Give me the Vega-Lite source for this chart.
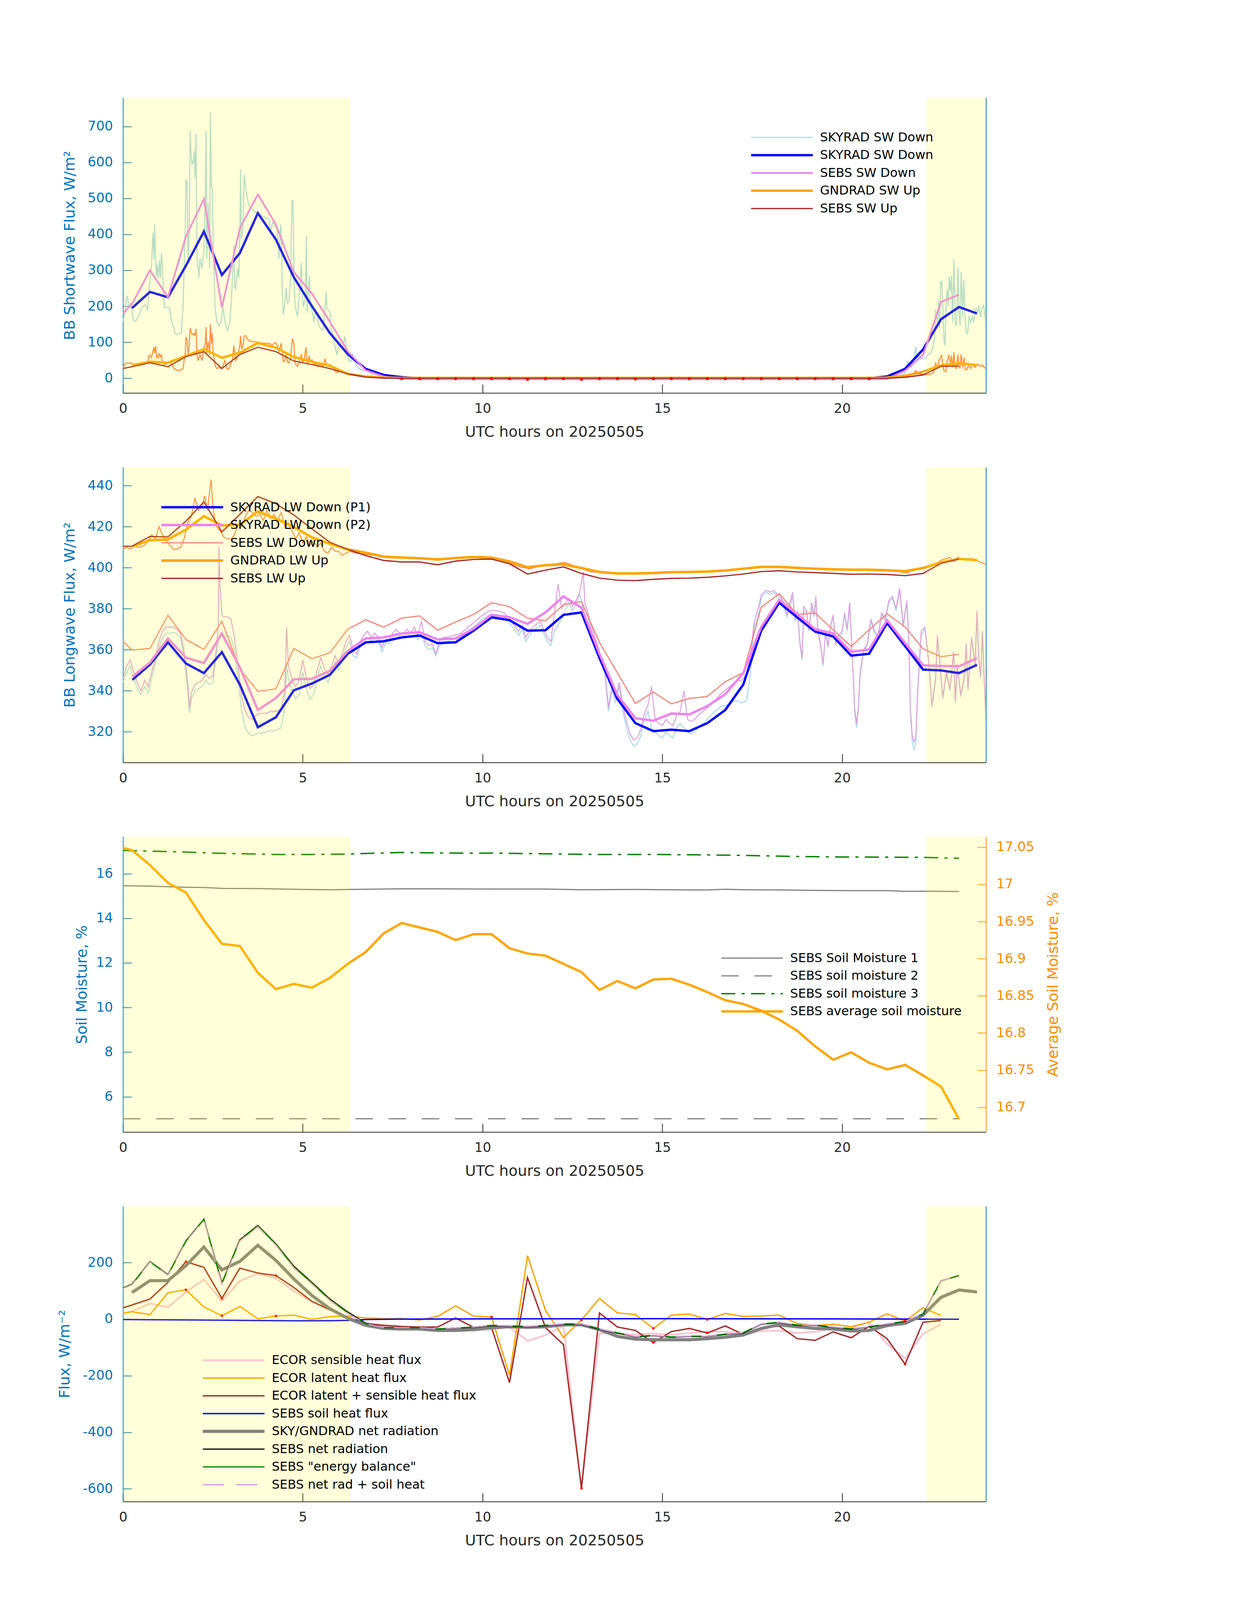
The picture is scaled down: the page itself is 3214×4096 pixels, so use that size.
{
"$schema": "https://vega.github.io/schema/vega-lite/v6.json",
"background": "white",
"padding": {"left": 147, "top": 250, "right": 5, "bottom": 5},
"config": {
  "font": "DejaVu Sans",
  "view": {"stroke": null},
  "axis": {"grid": false, "labelFont": "DejaVu Sans", "titleFont": "DejaVu Sans", "labelFontSize": 34, "titleFontSize": 38, "titleFontWeight": "normal", "tickSize": -22, "tickWidth": 2, "domainWidth": 2},
  "axisX": {"labelPadding": 45, "titlePadding": 24, "domainColor": "#262626", "tickColor": "#262626", "labelColor": "#262626", "titleColor": "#262626", "labelFlush": false},
  "axisLeft": {"labelPadding": 48, "titlePadding": 26, "domainColor": "#0072BD", "tickColor": "#0072BD", "labelColor": "#0072BD", "titleColor": "#0072BD"},
  "axisRight": {"labelPadding": 48, "titlePadding": 30},
  "legend": {"symbolType": "M-7.9,0H7.9", "symbolSize": 400, "labelFontSize": 32, "labelFont": "DejaVu Sans", "labelColor": "#000000", "rowPadding": 13.5, "padding": 0, "labelLimit": 3000, "symbolStrokeWidth": 2}
},
"datasets": {
  "day": [{"x0": 0, "x1": 6.32}, {"x0": 22.34, "x1": 24}],
  "p1raw": [{"h":0,"v":158},{"h":0.044,"v":177},{"h":0.099,"v":225},{"h":0.127,"v":228},{"h":0.155,"v":198},{"h":0.21,"v":209},{"h":0.29,"v":161},{"h":0.35,"v":158},{"h":0.43,"v":172},{"h":0.49,"v":188},{"h":0.54,"v":198},{"h":0.62,"v":204},{"h":0.68,"v":188},{"h":0.73,"v":252},{"h":0.79,"v":305},{"h":0.83,"v":404},{"h":0.86,"v":332},{"h":0.88,"v":428},{"h":0.91,"v":321},{"h":0.93,"v":284},{"h":0.95,"v":316},{"h":0.98,"v":279},{"h":1.01,"v":327},{"h":1.04,"v":279},{"h":1.07,"v":348},{"h":1.09,"v":321},{"h":1.12,"v":252},{"h":1.15,"v":198},{"h":1.2,"v":196},{"h":1.26,"v":198},{"h":1.3,"v":193},{"h":1.34,"v":161},{"h":1.4,"v":145},{"h":1.45,"v":124},{"h":1.51,"v":121},{"h":1.56,"v":124},{"h":1.62,"v":126},{"h":1.67,"v":198},{"h":1.73,"v":412},{"h":1.75,"v":551},{"h":1.78,"v":546},{"h":1.81,"v":316},{"h":1.84,"v":412},{"h":1.87,"v":688},{"h":1.89,"v":626},{"h":1.92,"v":594},{"h":1.95,"v":599},{"h":1.98,"v":631},{"h":2.0,"v":557},{"h":2.03,"v":680},{"h":2.06,"v":332},{"h":2.09,"v":305},{"h":2.11,"v":279},{"h":2.14,"v":332},{"h":2.2,"v":305},{"h":2.25,"v":359},{"h":2.29,"v":495},{"h":2.31,"v":688},{"h":2.33,"v":332},{"h":2.37,"v":487},{"h":2.41,"v":305},{"h":2.43,"v":741},{"h":2.46,"v":530},{"h":2.48,"v":530},{"h":2.51,"v":370},{"h":2.56,"v":198},{"h":2.61,"v":156},{"h":2.67,"v":145},{"h":2.72,"v":156},{"h":2.78,"v":198},{"h":2.81,"v":172},{"h":2.86,"v":145},{"h":2.91,"v":132},{"h":2.97,"v":156},{"h":3.02,"v":225},{"h":3.08,"v":370},{"h":3.11,"v":252},{"h":3.13,"v":246},{"h":3.19,"v":305},{"h":3.22,"v":279},{"h":3.25,"v":412},{"h":3.27,"v":581},{"h":3.29,"v":386},{"h":3.33,"v":412},{"h":3.37,"v":565},{"h":3.41,"v":530},{"h":3.47,"v":493},{"h":3.52,"v":476},{"h":3.6,"v":471},{"h":3.69,"v":460},{"h":3.77,"v":458},{"h":3.85,"v":452},{"h":3.96,"v":447},{"h":4.07,"v":442},{"h":4.1,"v":402},{"h":4.16,"v":434},{"h":4.24,"v":423},{"h":4.29,"v":412},{"h":4.34,"v":332},{"h":4.38,"v":428},{"h":4.4,"v":412},{"h":4.43,"v":252},{"h":4.46,"v":177},{"h":4.5,"v":209},{"h":4.54,"v":252},{"h":4.57,"v":209},{"h":4.61,"v":212},{"h":4.66,"v":273},{"h":4.7,"v":494},{"h":4.73,"v":493},{"h":4.76,"v":252},{"h":4.79,"v":198},{"h":4.85,"v":172},{"h":4.9,"v":225},{"h":4.96,"v":321},{"h":4.99,"v":225},{"h":5.02,"v":198},{"h":5.07,"v":225},{"h":5.1,"v":396},{"h":5.12,"v":182},{"h":5.18,"v":284},{"h":5.21,"v":198},{"h":5.26,"v":188},{"h":5.31,"v":156},{"h":5.35,"v":188},{"h":5.4,"v":172},{"h":5.45,"v":145},{"h":5.51,"v":137},{"h":5.56,"v":134},{"h":5.62,"v":198},{"h":5.65,"v":241},{"h":5.67,"v":193},{"h":5.73,"v":188},{"h":5.76,"v":182},{"h":5.78,"v":145},{"h":5.84,"v":113},{"h":5.89,"v":91},{"h":5.95,"v":65},{"h":6.0,"v":91},{"h":6.06,"v":86},{"h":6.11,"v":81},{"h":6.17,"v":116},{"h":6.23,"v":70},{"h":6.28,"v":49},{"h":6.34,"v":46},{"h":6.39,"v":65},{"h":6.45,"v":46},{"h":6.5,"v":35},{"h":6.56,"v":27},{"h":6.61,"v":25},{"h":6.67,"v":22},{"h":6.75,"v":23},{"h":6.83,"v":17},{"h":7.05,"v":9},{"h":7.33,"v":3},{"h":7.72,"v":1},{"h":8,"v":0},{"h":21.5,"v":0},{"h":21.66,"v":5.6},{"h":21.75,"v":15},{"h":21.84,"v":48},{"h":21.87,"v":33},{"h":21.93,"v":30},{"h":21.99,"v":48},{"h":22.05,"v":87},{"h":22.08,"v":48},{"h":22.14,"v":63},{"h":22.2,"v":54},{"h":22.26,"v":54},{"h":22.33,"v":57},{"h":22.39,"v":66},{"h":22.45,"v":68},{"h":22.51,"v":78},{"h":22.57,"v":109},{"h":22.6,"v":191},{"h":22.65,"v":155},{"h":22.68,"v":216},{"h":22.71,"v":139},{"h":22.74,"v":267},{"h":22.77,"v":270},{"h":22.8,"v":200},{"h":22.83,"v":109},{"h":22.86,"v":91},{"h":22.89,"v":200},{"h":22.92,"v":248},{"h":22.95,"v":200},{"h":22.98,"v":282},{"h":23.01,"v":242},{"h":23.04,"v":285},{"h":23.07,"v":155},{"h":23.11,"v":331},{"h":23.14,"v":155},{"h":23.18,"v":146},{"h":23.22,"v":307},{"h":23.25,"v":176},{"h":23.28,"v":146},{"h":23.31,"v":296},{"h":23.35,"v":170},{"h":23.38,"v":275},{"h":23.42,"v":170},{"h":23.45,"v":126},{"h":23.49,"v":124},{"h":23.53,"v":173},{"h":23.57,"v":155},{"h":23.62,"v":170},{"h":23.66,"v":155},{"h":23.7,"v":191},{"h":23.73,"v":194},{"h":23.77,"v":182},{"h":23.8,"v":203},{"h":23.85,"v":170},{"h":23.89,"v":194},{"h":23.94,"v":203},{"h":24,"v":146}],
  "p1coral": [{"h":0,"v":27},{"h":0.044,"v":39},{"h":0.099,"v":43},{"h":0.155,"v":41},{"h":0.21,"v":43},{"h":0.29,"v":38},{"h":0.375,"v":41},{"h":0.49,"v":38},{"h":0.6,"v":41},{"h":0.68,"v":43},{"h":0.73,"v":65},{"h":0.79,"v":57},{"h":0.83,"v":75},{"h":0.86,"v":86},{"h":0.88,"v":70},{"h":0.91,"v":89},{"h":0.93,"v":59},{"h":0.95,"v":62},{"h":0.98,"v":57},{"h":1.01,"v":70},{"h":1.04,"v":59},{"h":1.07,"v":65},{"h":1.09,"v":46},{"h":1.15,"v":38},{"h":1.23,"v":41},{"h":1.31,"v":46},{"h":1.37,"v":38},{"h":1.42,"v":27},{"h":1.51,"v":22},{"h":1.59,"v":22},{"h":1.67,"v":27},{"h":1.73,"v":70},{"h":1.75,"v":113},{"h":1.78,"v":110},{"h":1.81,"v":65},{"h":1.84,"v":91},{"h":1.87,"v":140},{"h":1.89,"v":129},{"h":1.93,"v":121},{"h":1.98,"v":124},{"h":2.0,"v":118},{"h":2.03,"v":137},{"h":2.06,"v":65},{"h":2.09,"v":49},{"h":2.14,"v":65},{"h":2.2,"v":49},{"h":2.25,"v":86},{"h":2.29,"v":97},{"h":2.31,"v":142},{"h":2.33,"v":70},{"h":2.37,"v":102},{"h":2.41,"v":65},{"h":2.43,"v":150},{"h":2.46,"v":97},{"h":2.48,"v":124},{"h":2.51,"v":70},{"h":2.56,"v":35},{"h":2.61,"v":27},{"h":2.67,"v":30},{"h":2.72,"v":27},{"h":2.78,"v":33},{"h":2.83,"v":49},{"h":2.89,"v":27},{"h":2.94,"v":25},{"h":3.0,"v":38},{"h":3.05,"v":54},{"h":3.08,"v":91},{"h":3.13,"v":49},{"h":3.19,"v":59},{"h":3.25,"v":91},{"h":3.27,"v":118},{"h":3.3,"v":81},{"h":3.34,"v":91},{"h":3.37,"v":118},{"h":3.41,"v":118},{"h":3.47,"v":107},{"h":3.58,"v":102},{"h":3.69,"v":101},{"h":3.8,"v":99},{"h":3.91,"v":97},{"h":4.07,"v":97},{"h":4.13,"v":91},{"h":4.24,"v":99},{"h":4.29,"v":91},{"h":4.34,"v":75},{"h":4.38,"v":91},{"h":4.4,"v":97},{"h":4.43,"v":70},{"h":4.46,"v":46},{"h":4.5,"v":49},{"h":4.54,"v":70},{"h":4.57,"v":46},{"h":4.61,"v":43},{"h":4.66,"v":54},{"h":4.71,"v":110},{"h":4.75,"v":97},{"h":4.79,"v":41},{"h":4.85,"v":33},{"h":4.9,"v":43},{"h":4.96,"v":67},{"h":4.99,"v":43},{"h":5.04,"v":54},{"h":5.09,"v":86},{"h":5.13,"v":38},{"h":5.18,"v":62},{"h":5.21,"v":46},{"h":5.26,"v":51},{"h":5.31,"v":38},{"h":5.37,"v":41},{"h":5.42,"v":33},{"h":5.48,"v":38},{"h":5.56,"v":33},{"h":5.62,"v":54},{"h":5.65,"v":41},{"h":5.7,"v":33},{"h":5.76,"v":38},{"h":5.81,"v":33},{"h":5.87,"v":27},{"h":5.92,"v":17},{"h":5.98,"v":17},{"h":6.03,"v":22},{"h":6.11,"v":19},{"h":6.2,"v":14},{"h":6.28,"v":11},{"h":6.39,"v":9},{"h":6.56,"v":6},{"h":6.83,"v":5},{"h":7.16,"v":2},{"h":7.6,"v":1},{"h":8,"v":0.5},{"h":21,"v":0.5},{"h":21.69,"v":5.6},{"h":21.81,"v":5.6},{"h":21.99,"v":12},{"h":22.05,"v":21},{"h":22.08,"v":12},{"h":22.17,"v":12},{"h":22.29,"v":10},{"h":22.39,"v":10},{"h":22.48,"v":12},{"h":22.54,"v":15},{"h":22.6,"v":42},{"h":22.65,"v":30},{"h":22.69,"v":48},{"h":22.74,"v":60},{"h":22.77,"v":63},{"h":22.8,"v":36},{"h":22.83,"v":21},{"h":22.88,"v":18},{"h":22.92,"v":48},{"h":22.97,"v":63},{"h":23.01,"v":42},{"h":23.04,"v":63},{"h":23.07,"v":30},{"h":23.11,"v":72},{"h":23.14,"v":30},{"h":23.18,"v":27},{"h":23.22,"v":66},{"h":23.25,"v":30},{"h":23.28,"v":29},{"h":23.31,"v":66},{"h":23.35,"v":30},{"h":23.39,"v":57},{"h":23.42,"v":24},{"h":23.47,"v":24},{"h":23.51,"v":36},{"h":23.57,"v":27},{"h":23.63,"v":39},{"h":23.69,"v":30},{"h":23.78,"v":39},{"h":23.84,"v":33},{"h":23.9,"v":36},{"h":23.97,"v":29},{"h":24,"v":27}],
  "p1b": [{"h":0.25,"v":195},{"h":0.75,"v":240},{"h":1.25,"v":225},{"h":1.75,"v":313},{"h":2.25,"v":408},{"h":2.75,"v":287},{"h":3.25,"v":348},{"h":3.75,"v":459},{"h":4.25,"v":386},{"h":4.75,"v":281},{"h":5.25,"v":201},{"h":5.75,"v":126},{"h":6.25,"v":67},{"h":6.75,"v":26},{"h":7.25,"v":9},{"h":7.75,"v":3},{"h":8.25,"v":0},{"h":20.75,"v":0},{"h":21.25,"v":5},{"h":21.75,"v":26},{"h":22.25,"v":80},{"h":22.75,"v":164},{"h":23.25,"v":198},{"h":23.75,"v":180}],
  "p1c": [{"h":0,"v":180},{"h":0.25,"v":206},{"h":0.75,"v":300},{"h":1.25,"v":225},{"h":1.75,"v":394},{"h":2.25,"v":498},{"h":2.75,"v":197},{"h":3.25,"v":417},{"h":3.75,"v":511},{"h":4.25,"v":428},{"h":4.75,"v":295},{"h":5.25,"v":236},{"h":5.75,"v":158},{"h":6.25,"v":75},{"h":6.75,"v":22},{"h":7.25,"v":5},{"h":7.75,"v":-2},{"h":8.25,"v":-3},{"h":20.75,"v":-3},{"h":21.25,"v":-2},{"h":21.75,"v":21},{"h":22.25,"v":65},{"h":22.75,"v":212},{"h":23.25,"v":232}],
  "p1d": [{"h":0.25,"v":36},{"h":0.75,"v":46},{"h":1.25,"v":43},{"h":1.75,"v":62},{"h":2.25,"v":81},{"h":2.75,"v":57},{"h":3.25,"v":71},{"h":3.75,"v":98},{"h":4.25,"v":85},{"h":4.75,"v":59},{"h":5.25,"v":46},{"h":5.75,"v":35},{"h":6.25,"v":12},{"h":6.75,"v":5},{"h":7.25,"v":2},{"h":7.75,"v":1},{"h":20.75,"v":1},{"h":21.25,"v":2},{"h":21.75,"v":7},{"h":22.25,"v":18},{"h":22.75,"v":36},{"h":23.25,"v":42},{"h":23.75,"v":36}],
  "p1e": [{"h":0,"v":27},{"h":0.25,"v":32},{"h":0.75,"v":43},{"h":1.25,"v":32},{"h":1.75,"v":60},{"h":2.25,"v":74},{"h":2.75,"v":27},{"h":3.25,"v":66},{"h":3.75,"v":86},{"h":4.25,"v":74},{"h":4.75,"v":48},{"h":5.25,"v":38},{"h":5.75,"v":27},{"h":6.25,"v":12},{"h":6.75,"v":3},{"h":7.25,"v":0.5},{"h":7.75,"v":0},{"h":20.75,"v":0},{"h":21.25,"v":0},{"h":21.75,"v":2.6},{"h":22.25,"v":9},{"h":22.75,"v":33},{"h":23.25,"v":34}],
  "p1red": [{"h":7.75,"v":-1},{"h":8.25,"v":-1},{"h":8.75,"v":-1},{"h":9.25,"v":-1},{"h":9.75,"v":-1},{"h":10.25,"v":-1},{"h":10.75,"v":-1},{"h":11.25,"v":-3},{"h":11.75,"v":-1},{"h":12.25,"v":-1},{"h":12.75,"v":-3},{"h":13.25,"v":-1},{"h":13.75,"v":-1},{"h":14.25,"v":-2},{"h":14.75,"v":-1},{"h":15.25,"v":-1},{"h":15.75,"v":-1},{"h":16.25,"v":-1},{"h":16.75,"v":-1},{"h":17.25,"v":-1},{"h":17.75,"v":-1},{"h":18.25,"v":-1},{"h":18.75,"v":-1},{"h":19.25,"v":-1},{"h":19.75,"v":-1},{"h":20.25,"v":-1},{"h":20.75,"v":-1}],
  "p2raw1": [{"h":0,"v":344},{"h":0.1,"v":349},{"h":0.2,"v":352},{"h":0.3,"v":346},{"h":0.4,"v":341},{"h":0.5,"v":338},{"h":0.6,"v":342},{"h":0.7,"v":339},{"h":0.8,"v":346},{"h":0.9,"v":353},{"h":1.0,"v":361},{"h":1.1,"v":366},{"h":1.2,"v":368},{"h":1.3,"v":368},{"h":1.4,"v":368.5},{"h":1.5,"v":368},{"h":1.6,"v":366},{"h":1.7,"v":356},{"h":1.8,"v":340},{"h":1.85,"v":329},{"h":1.9,"v":336},{"h":2.0,"v":340},{"h":2.1,"v":341},{"h":2.2,"v":342},{"h":2.3,"v":345},{"h":2.4,"v":343},{"h":2.5,"v":344},{"h":2.6,"v":358},{"h":2.7,"v":368},{"h":2.8,"v":366},{"h":2.9,"v":367},{"h":3.0,"v":366},{"h":3.1,"v":360},{"h":3.2,"v":346},{"h":3.3,"v":330},{"h":3.4,"v":322},{"h":3.5,"v":319},{"h":3.6,"v":318},{"h":3.7,"v":319},{"h":3.8,"v":319.5},{"h":3.9,"v":319.5},{"h":4.0,"v":320},{"h":4.1,"v":320.5},{"h":4.2,"v":320.5},{"h":4.3,"v":321},{"h":4.4,"v":322},{"h":4.5,"v":332},{"h":4.55,"v":352},{"h":4.6,"v":346},{"h":4.7,"v":340},{"h":4.8,"v":336},{"h":4.9,"v":338},{"h":5.0,"v":349},{"h":5.1,"v":341},{"h":5.2,"v":336},{"h":5.3,"v":338},{"h":5.4,"v":346},{"h":5.5,"v":352},{"h":5.6,"v":347},{"h":5.7,"v":344},{"h":5.8,"v":349},{"h":5.9,"v":354},{"h":6.0,"v":350},{"h":6.1,"v":355},{"h":6.2,"v":361},{"h":6.3,"v":364},{"h":6.4,"v":357},{"h":6.5,"v":356},{"h":6.6,"v":362},{"h":6.7,"v":365},{"h":6.8,"v":366},{"h":6.9,"v":364},{"h":7.0,"v":366},{"h":7.1,"v":364},{"h":7.2,"v":359},{"h":7.3,"v":363},{"h":7.4,"v":363},{"h":7.5,"v":366},{"h":7.6,"v":368},{"h":7.7,"v":366},{"h":7.8,"v":366},{"h":7.9,"v":368},{"h":8.0,"v":366},{"h":8.1,"v":369},{"h":8.2,"v":365},{"h":8.3,"v":368},{"h":8.4,"v":362},{"h":8.5,"v":360},{"h":8.6,"v":361},{"h":8.7,"v":357},{"h":8.8,"v":362},{"h":8.9,"v":364},{"h":9.0,"v":364},{"h":9.2,"v":365},{"h":9.4,"v":366},{"h":9.6,"v":369},{"h":9.8,"v":372},{"h":10.0,"v":375},{"h":10.2,"v":377},{"h":10.4,"v":377},{"h":10.6,"v":376},{"h":10.8,"v":372},{"h":11.0,"v":367},{"h":11.1,"v":370},{"h":11.2,"v":364},{"h":11.3,"v":367},{"h":11.4,"v":369},{"h":11.6,"v":372},{"h":11.8,"v":364},{"h":11.9,"v":362},{"h":12.0,"v":369},{"h":12.2,"v":375},{"h":12.4,"v":383},{"h":12.5,"v":379},{"h":12.6,"v":382},{"h":12.7,"v":387},{"h":12.8,"v":380},{"h":12.9,"v":378},{"h":13.0,"v":371},{"h":13.2,"v":360},{"h":13.4,"v":348},{"h":13.5,"v":330},{"h":13.6,"v":340},{"h":13.7,"v":334},{"h":13.8,"v":342},{"h":13.9,"v":330},{"h":14.0,"v":322},{"h":14.1,"v":316},{"h":14.2,"v":313},{"h":14.3,"v":314},{"h":14.4,"v":318},{"h":14.5,"v":326},{"h":14.6,"v":330},{"h":14.7,"v":322},{"h":14.8,"v":320},{"h":14.9,"v":318},{"h":15.0,"v":317},{"h":15.1,"v":320},{"h":15.2,"v":318},{"h":15.3,"v":317},{"h":15.4,"v":322},{"h":15.5,"v":324},{"h":15.6,"v":322},{"h":15.7,"v":320},{"h":15.8,"v":319},{"h":15.9,"v":320},{"h":16.0,"v":322},{"h":16.2,"v":325},{"h":16.4,"v":329},{"h":16.6,"v":332},{"h":16.8,"v":333},{"h":17.0,"v":335},{"h":17.1,"v":335},{"h":17.2,"v":334},{"h":17.34,"v":335},{"h":17.44,"v":347},{"h":17.55,"v":371},{"h":17.66,"v":376},{"h":17.76,"v":386},{"h":17.9,"v":388},{"h":18.0,"v":387},{"h":18.1,"v":388},{"h":18.2,"v":386},{"h":18.3,"v":385},{"h":18.47,"v":376},{"h":18.62,"v":386},{"h":18.69,"v":374},{"h":18.76,"v":377},{"h":18.83,"v":362},{"h":18.89,"v":355},{"h":18.93,"v":379},{"h":19.01,"v":378},{"h":19.08,"v":369},{"h":19.15,"v":381},{"h":19.22,"v":376},{"h":19.27,"v":384},{"h":19.33,"v":368},{"h":19.4,"v":362},{"h":19.47,"v":352},{"h":19.54,"v":368},{"h":19.61,"v":361},{"h":19.68,"v":371},{"h":19.75,"v":376},{"h":19.82,"v":362},{"h":19.89,"v":366},{"h":20.0,"v":368},{"h":20.07,"v":377},{"h":20.14,"v":369},{"h":20.21,"v":381},{"h":20.3,"v":350},{"h":20.35,"v":329},{"h":20.4,"v":322},{"h":20.45,"v":330},{"h":20.5,"v":347},{"h":20.6,"v":359},{"h":20.7,"v":362},{"h":20.8,"v":374},{"h":20.9,"v":368},{"h":21.0,"v":366},{"h":21.1,"v":377},{"h":21.2,"v":374},{"h":21.3,"v":383},{"h":21.4,"v":385},{"h":21.5,"v":379},{"h":21.6,"v":388},{"h":21.7,"v":371},{"h":21.8,"v":383},{"h":21.85,"v":366},{"h":21.9,"v":329},{"h":21.95,"v":315},{"h":22.0,"v":311},{"h":22.05,"v":315},{"h":22.1,"v":338},{"h":22.2,"v":367},{"h":22.3,"v":370},{"h":22.4,"v":355},{"h":22.5,"v":332},{"h":22.6,"v":345},{"h":22.65,"v":366},{"h":22.7,"v":356},{"h":22.8,"v":336},{"h":22.9,"v":348},{"h":23.0,"v":340},{"h":23.1,"v":358},{"h":23.15,"v":334},{"h":23.2,"v":352},{"h":23.3,"v":337},{"h":23.4,"v":346},{"h":23.45,"v":362},{"h":23.5,"v":340},{"h":23.6,"v":365},{"h":23.7,"v":352},{"h":23.75,"v":377},{"h":23.8,"v":355},{"h":23.85,"v":346},{"h":23.9,"v":368},{"h":23.95,"v":345},{"h":24.0,"v":324}],
  "p2raw2": [{"h":0,"v":346},{"h":0.1,"v":352},{"h":0.2,"v":355},{"h":0.3,"v":349},{"h":0.4,"v":344},{"h":0.5,"v":340},{"h":0.6,"v":345},{"h":0.7,"v":342},{"h":0.8,"v":349},{"h":0.9,"v":356},{"h":1.0,"v":364},{"h":1.1,"v":369},{"h":1.2,"v":371},{"h":1.3,"v":371},{"h":1.4,"v":371},{"h":1.5,"v":370},{"h":1.6,"v":368},{"h":1.7,"v":359},{"h":1.8,"v":344},{"h":1.85,"v":332},{"h":1.9,"v":339},{"h":2.0,"v":343},{"h":2.1,"v":344},{"h":2.2,"v":345},{"h":2.3,"v":348},{"h":2.4,"v":346},{"h":2.5,"v":347},{"h":2.6,"v":361},{"h":2.65,"v":372},{"h":2.67,"v":410},{"h":2.7,"v":390},{"h":2.75,"v":377},{"h":2.8,"v":376},{"h":2.9,"v":376},{"h":3.0,"v":375},{"h":3.1,"v":366},{"h":3.2,"v":352},{"h":3.3,"v":337},{"h":3.4,"v":330},{"h":3.5,"v":327},{"h":3.6,"v":326},{"h":3.7,"v":328},{"h":3.8,"v":329},{"h":3.9,"v":329},{"h":4.0,"v":329},{"h":4.1,"v":330},{"h":4.2,"v":330},{"h":4.3,"v":330},{"h":4.4,"v":331},{"h":4.5,"v":340},{"h":4.55,"v":371},{"h":4.6,"v":352},{"h":4.7,"v":346},{"h":4.8,"v":342},{"h":4.9,"v":345},{"h":5.0,"v":355},{"h":5.1,"v":346},{"h":5.2,"v":341},{"h":5.3,"v":343},{"h":5.4,"v":350},{"h":5.5,"v":356},{"h":5.6,"v":351},{"h":5.7,"v":348},{"h":5.8,"v":352},{"h":5.9,"v":357},{"h":6.0,"v":353},{"h":6.1,"v":358},{"h":6.2,"v":364},{"h":6.3,"v":367},{"h":6.4,"v":360},{"h":6.5,"v":358},{"h":6.6,"v":364},{"h":6.7,"v":367},{"h":6.8,"v":369},{"h":6.9,"v":366},{"h":7.0,"v":368},{"h":7.1,"v":366},{"h":7.2,"v":361},{"h":7.3,"v":365},{"h":7.4,"v":365},{"h":7.5,"v":368},{"h":7.6,"v":370},{"h":7.7,"v":368},{"h":7.8,"v":368},{"h":7.9,"v":370},{"h":8.0,"v":368},{"h":8.1,"v":371},{"h":8.2,"v":367},{"h":8.3,"v":374},{"h":8.4,"v":364},{"h":8.5,"v":362},{"h":8.6,"v":363},{"h":8.7,"v":358},{"h":8.8,"v":364},{"h":8.9,"v":366},{"h":9.0,"v":366},{"h":9.2,"v":367},{"h":9.4,"v":368},{"h":9.6,"v":371},{"h":9.8,"v":374},{"h":10.0,"v":377},{"h":10.2,"v":379},{"h":10.4,"v":379},{"h":10.6,"v":378},{"h":10.8,"v":374},{"h":11.0,"v":369},{"h":11.1,"v":372},{"h":11.2,"v":366},{"h":11.3,"v":369},{"h":11.4,"v":371},{"h":11.6,"v":374},{"h":11.8,"v":366},{"h":11.9,"v":364},{"h":12.0,"v":378},{"h":12.1,"v":392},{"h":12.2,"v":380},{"h":12.4,"v":385},{"h":12.5,"v":381},{"h":12.6,"v":384},{"h":12.7,"v":388},{"h":12.8,"v":398},{"h":12.85,"v":382},{"h":12.9,"v":380},{"h":13.0,"v":373},{"h":13.2,"v":362},{"h":13.4,"v":350},{"h":13.5,"v":332},{"h":13.6,"v":342},{"h":13.7,"v":336},{"h":13.8,"v":344},{"h":13.9,"v":333},{"h":14.0,"v":325},{"h":14.1,"v":319},{"h":14.2,"v":316},{"h":14.3,"v":317},{"h":14.4,"v":321},{"h":14.5,"v":329},{"h":14.6,"v":333},{"h":14.7,"v":342},{"h":14.8,"v":326},{"h":14.9,"v":324},{"h":15.0,"v":323},{"h":15.1,"v":326},{"h":15.2,"v":324},{"h":15.3,"v":323},{"h":15.4,"v":328},{"h":15.5,"v":330},{"h":15.6,"v":340},{"h":15.7,"v":326},{"h":15.8,"v":325},{"h":15.9,"v":326},{"h":16.0,"v":328},{"h":16.2,"v":331},{"h":16.4,"v":334},{"h":16.6,"v":338},{"h":16.8,"v":341},{"h":17.0,"v":344},{"h":17.1,"v":345},{"h":17.2,"v":345},{"h":17.34,"v":348},{"h":17.44,"v":356},{"h":17.55,"v":373},{"h":17.66,"v":380},{"h":17.76,"v":387},{"h":17.9,"v":389},{"h":18.0,"v":388},{"h":18.1,"v":389},{"h":18.2,"v":387},{"h":18.3,"v":386},{"h":18.47,"v":377},{"h":18.62,"v":388},{"h":18.69,"v":375},{"h":18.76,"v":379},{"h":18.83,"v":363},{"h":18.89,"v":356},{"h":18.93,"v":381},{"h":19.01,"v":379},{"h":19.08,"v":370},{"h":19.15,"v":383},{"h":19.22,"v":377},{"h":19.27,"v":386},{"h":19.33,"v":369},{"h":19.4,"v":363},{"h":19.47,"v":353},{"h":19.54,"v":369},{"h":19.61,"v":362},{"h":19.68,"v":372},{"h":19.75,"v":377},{"h":19.82,"v":363},{"h":19.89,"v":367},{"h":20.0,"v":369},{"h":20.07,"v":378},{"h":20.14,"v":370},{"h":20.21,"v":383},{"h":20.3,"v":351},{"h":20.35,"v":331},{"h":20.4,"v":324},{"h":20.45,"v":332},{"h":20.5,"v":349},{"h":20.6,"v":360},{"h":20.7,"v":363},{"h":20.8,"v":375},{"h":20.9,"v":369},{"h":21.0,"v":367},{"h":21.1,"v":378},{"h":21.2,"v":375},{"h":21.3,"v":384},{"h":21.4,"v":386},{"h":21.5,"v":380},{"h":21.6,"v":390},{"h":21.7,"v":372},{"h":21.8,"v":384},{"h":21.85,"v":367},{"h":21.9,"v":331},{"h":21.95,"v":318},{"h":22.0,"v":315},{"h":22.05,"v":318},{"h":22.1,"v":340},{"h":22.2,"v":369},{"h":22.3,"v":371},{"h":22.4,"v":356},{"h":22.5,"v":333},{"h":22.6,"v":346},{"h":22.65,"v":367},{"h":22.7,"v":357},{"h":22.8,"v":337},{"h":22.9,"v":349},{"h":23.0,"v":341},{"h":23.1,"v":359},{"h":23.15,"v":335},{"h":23.2,"v":353},{"h":23.3,"v":338},{"h":23.4,"v":347},{"h":23.45,"v":363},{"h":23.5,"v":341},{"h":23.6,"v":366},{"h":23.7,"v":353},{"h":23.75,"v":379},{"h":23.8,"v":356},{"h":23.85,"v":347},{"h":23.9,"v":369},{"h":23.95,"v":346},{"h":24.0,"v":326}],
  "p2coral": [{"h":0,"v":409},{"h":0.1,"v":410},{"h":0.2,"v":409},{"h":0.3,"v":411},{"h":0.4,"v":410},{"h":0.5,"v":410},{"h":0.6,"v":411},{"h":0.7,"v":413},{"h":0.8,"v":416},{"h":0.9,"v":414},{"h":1.0,"v":420},{"h":1.05,"v":418},{"h":1.1,"v":416},{"h":1.2,"v":413},{"h":1.3,"v":411},{"h":1.4,"v":409},{"h":1.5,"v":409},{"h":1.6,"v":410},{"h":1.7,"v":414},{"h":1.8,"v":422},{"h":1.9,"v":425},{"h":2.0,"v":434},{"h":2.1,"v":428},{"h":2.2,"v":430},{"h":2.27,"v":435},{"h":2.35,"v":428},{"h":2.4,"v":436},{"h":2.45,"v":443},{"h":2.5,"v":430},{"h":2.55,"v":424},{"h":2.6,"v":420},{"h":2.7,"v":418},{"h":2.8,"v":415},{"h":2.9,"v":414},{"h":3.0,"v":414},{"h":3.1,"v":416},{"h":3.2,"v":421},{"h":3.3,"v":420},{"h":3.4,"v":425},{"h":3.5,"v":428},{"h":3.6,"v":427},{"h":3.7,"v":425},{"h":3.8,"v":426},{"h":3.9,"v":423},{"h":4.0,"v":428},{"h":4.1,"v":424},{"h":4.2,"v":426},{"h":4.3,"v":423},{"h":4.4,"v":427},{"h":4.5,"v":420},{"h":4.6,"v":422},{"h":4.7,"v":418},{"h":4.8,"v":414},{"h":4.9,"v":417},{"h":5.0,"v":412},{"h":5.1,"v":415},{"h":5.2,"v":411},{"h":5.3,"v":413},{"h":5.4,"v":410},{"h":5.5,"v":412},{"h":5.6,"v":408},{"h":5.7,"v":407},{"h":5.8,"v":410},{"h":5.9,"v":408},{"h":6.0,"v":408},{"h":6.1,"v":406},{"h":6.2,"v":407},{"h":6.3,"v":408},{"h":6.5,"v":407},{"h":7,"v":406},{"h":7.5,"v":405},{"h":8,"v":405},{"h":8.5,"v":404.5},{"h":9,"v":404.5},{"h":9.5,"v":405},{"h":10,"v":405.5},{"h":10.5,"v":404},{"h":11,"v":400.5},{"h":11.3,"v":399.5},{"h":11.8,"v":401.5},{"h":12.3,"v":402.5},{"h":12.7,"v":400},{"h":13,"v":398},{"h":14,"v":397.2},{"h":15,"v":397.8},{"h":16,"v":398},{"h":17,"v":399},{"h":18,"v":400.6},{"h":19,"v":399.8},{"h":20,"v":399.2},{"h":21,"v":398.5},{"h":21.5,"v":398.2},{"h":21.8,"v":397.5},{"h":22,"v":399},{"h":22.3,"v":400},{"h":22.6,"v":402},{"h":22.8,"v":404},{"h":23,"v":405},{"h":23.1,"v":403},{"h":23.2,"v":405},{"h":23.4,"v":404},{"h":23.6,"v":404.5},{"h":23.8,"v":403},{"h":24,"v":401.5}],
  "p2a": [{"h":0.26,"v":345.3},{"h":0.75,"v":352.8},{"h":1.25,"v":363.6},{"h":1.75,"v":353.3},{"h":2.25,"v":348.6},{"h":2.75,"v":358.8},{"h":3.25,"v":343},{"h":3.75,"v":322.2},{"h":4.25,"v":327},{"h":4.75,"v":340.2},{"h":5.25,"v":343.5},{"h":5.75,"v":347.7},{"h":6.25,"v":358},{"h":6.75,"v":363.6},{"h":7.25,"v":364.1},{"h":7.75,"v":366},{"h":8.25,"v":366.9},{"h":8.75,"v":363.2},{"h":9.25,"v":363.6},{"h":9.75,"v":369.3},{"h":10.25,"v":375.8},{"h":10.75,"v":374.4},{"h":11.25,"v":369.3},{"h":11.75,"v":369.5},{"h":12.25,"v":377},{"h":12.75,"v":378.2},{"h":13.25,"v":356},{"h":13.75,"v":336},{"h":14.25,"v":324.2},{"h":14.75,"v":320.3},{"h":15.25,"v":321},{"h":15.75,"v":320.3},{"h":16.25,"v":324.2},{"h":16.75,"v":330.6},{"h":17.25,"v":343},{"h":17.75,"v":369.3},{"h":18.25,"v":382.9},{"h":18.75,"v":375.8},{"h":19.25,"v":368.8},{"h":19.75,"v":366.5},{"h":20.25,"v":357.1},{"h":20.75,"v":358},{"h":21.25,"v":373},{"h":21.75,"v":361.8},{"h":22.25,"v":350.3},{"h":22.75,"v":349.9},{"h":23.25,"v":348.6},{"h":23.75,"v":352.6}],
  "p2b": [{"h":0.26,"v":346.8},{"h":0.75,"v":353.8},{"h":1.25,"v":365.5},{"h":1.75,"v":356.1},{"h":2.25,"v":353.5},{"h":2.75,"v":367.9},{"h":3.25,"v":351.4},{"h":3.75,"v":330.6},{"h":4.25,"v":336.4},{"h":4.75,"v":345.6},{"h":5.25,"v":345.8},{"h":5.75,"v":349.6},{"h":6.25,"v":359.4},{"h":6.75,"v":365.5},{"h":7.25,"v":366},{"h":7.75,"v":367.9},{"h":8.25,"v":368.5},{"h":8.75,"v":365},{"h":9.25,"v":365.5},{"h":9.75,"v":370.2},{"h":10.25,"v":377},{"h":10.75,"v":375.8},{"h":11.25,"v":372.6},{"h":11.75,"v":378.2},{"h":12.25,"v":386},{"h":12.75,"v":380.5},{"h":13.25,"v":358},{"h":13.75,"v":337.8},{"h":14.25,"v":326.6},{"h":14.75,"v":325.4},{"h":15.25,"v":328.9},{"h":15.75,"v":328.5},{"h":16.25,"v":332.5},{"h":16.75,"v":338.3},{"h":17.25,"v":348.6},{"h":17.75,"v":371.1},{"h":18.25,"v":384.3},{"h":18.75,"v":377.2},{"h":19.25,"v":370},{"h":19.75,"v":367.9},{"h":20.25,"v":359},{"h":20.75,"v":360.1},{"h":21.25,"v":374.4},{"h":21.75,"v":363.2},{"h":22.25,"v":352.4},{"h":22.75,"v":352.1},{"h":23.25,"v":351.9},{"h":23.75,"v":355.9}],
  "p2c": [{"h":0,"v":364.1},{"h":0.25,"v":359.9},{"h":0.75,"v":360.6},{"h":1.25,"v":376.8},{"h":1.75,"v":365},{"h":2.25,"v":360.1},{"h":2.75,"v":373.9},{"h":3.25,"v":350.5},{"h":3.75,"v":339.7},{"h":4.25,"v":340.9},{"h":4.75,"v":360.6},{"h":5.25,"v":355.6},{"h":5.75,"v":358.5},{"h":6.25,"v":370},{"h":6.75,"v":374.6},{"h":7.25,"v":371},{"h":7.75,"v":375.4},{"h":8.25,"v":376.5},{"h":8.75,"v":369.5},{"h":9.25,"v":373.5},{"h":9.75,"v":377.2},{"h":10.25,"v":382.9},{"h":10.75,"v":381},{"h":11.25,"v":375.4},{"h":11.75,"v":374.1},{"h":12.25,"v":381.9},{"h":12.75,"v":383.5},{"h":13.25,"v":363.6},{"h":14.25,"v":333.8},{"h":14.75,"v":339.4},{"h":15.25,"v":333.6},{"h":15.75,"v":336.2},{"h":16.25,"v":337.2},{"h":16.75,"v":344.4},{"h":17.25,"v":348.8},{"h":17.75,"v":380.7},{"h":18.25,"v":387.3},{"h":18.75,"v":377.2},{"h":19.25,"v":377.9},{"h":19.75,"v":369.7},{"h":20.25,"v":361.6},{"h":20.75,"v":369.7},{"h":21.25,"v":377.5},{"h":21.75,"v":371.1},{"h":22.25,"v":360.4},{"h":22.75,"v":356.6},{"h":23.25,"v":357.8}],
  "p2d": [{"h":0.26,"v":410.4},{"h":0.75,"v":413.4},{"h":1.25,"v":413.8},{"h":1.75,"v":418.5},{"h":2.25,"v":425.1},{"h":2.75,"v":420.6},{"h":3.25,"v":420.9},{"h":3.75,"v":427.4},{"h":4.25,"v":423.9},{"h":4.75,"v":419.9},{"h":5.25,"v":414.8},{"h":5.75,"v":411.7},{"h":6.25,"v":408.9},{"h":6.75,"v":407.3},{"h":7.25,"v":405.4},{"h":7.75,"v":404.9},{"h":8.25,"v":404.6},{"h":8.75,"v":404},{"h":9.25,"v":404.7},{"h":9.75,"v":405.2},{"h":10.25,"v":404.9},{"h":10.75,"v":403},{"h":11.25,"v":400.2},{"h":11.75,"v":401.2},{"h":12.25,"v":401.6},{"h":12.75,"v":399.8},{"h":13.25,"v":397.9},{"h":13.75,"v":397.2},{"h":14.25,"v":397.2},{"h":14.75,"v":397.4},{"h":15.25,"v":397.8},{"h":15.75,"v":397.9},{"h":16.25,"v":398.1},{"h":16.75,"v":398.6},{"h":17.25,"v":399.5},{"h":17.75,"v":400.4},{"h":18.25,"v":400.4},{"h":18.75,"v":399.9},{"h":19.25,"v":399.5},{"h":19.75,"v":399.2},{"h":20.25,"v":399},{"h":20.75,"v":399},{"h":21.25,"v":398.7},{"h":21.75,"v":398.3},{"h":22.25,"v":399.8},{"h":22.75,"v":402.6},{"h":23.25,"v":404.3},{"h":23.75,"v":403.7}],
  "p2e": [{"h":0,"v":410.4},{"h":0.25,"v":410.5},{"h":0.75,"v":415.2},{"h":1.25,"v":415},{"h":1.75,"v":422.7},{"h":2.25,"v":432.1},{"h":2.75,"v":417.4},{"h":3.25,"v":426},{"h":3.75,"v":434.7},{"h":4.25,"v":431.2},{"h":4.75,"v":425.7},{"h":5.25,"v":419},{"h":5.75,"v":412.4},{"h":6.25,"v":408.9},{"h":6.75,"v":405.9},{"h":7.25,"v":403.5},{"h":7.75,"v":402.8},{"h":8.25,"v":402.8},{"h":8.75,"v":401.4},{"h":9.25,"v":403.2},{"h":9.75,"v":404},{"h":10.25,"v":404.2},{"h":10.75,"v":401.9},{"h":11.25,"v":396.9},{"h":11.75,"v":398.8},{"h":12.25,"v":400.4},{"h":12.75,"v":397.2},{"h":13.25,"v":394.9},{"h":13.75,"v":393.9},{"h":14.25,"v":393.7},{"h":14.75,"v":394.3},{"h":15.25,"v":394.8},{"h":15.75,"v":394.9},{"h":16.25,"v":395.3},{"h":16.75,"v":396},{"h":17.25,"v":396.9},{"h":17.75,"v":398.1},{"h":18.25,"v":398.5},{"h":18.75,"v":397.9},{"h":19.25,"v":397.6},{"h":19.75,"v":397.2},{"h":20.25,"v":396.8},{"h":20.75,"v":396.9},{"h":21.25,"v":396.7},{"h":21.75,"v":396.1},{"h":22.25,"v":397.2},{"h":22.75,"v":402.1},{"h":23.25,"v":404.2}],
  "p3a": [{"h":0,"v":15.46},{"h":0.75,"v":15.44},{"h":1.75,"v":15.39},{"h":2.25,"v":15.38},{"h":2.75,"v":15.34},{"h":3.75,"v":15.33},{"h":4.75,"v":15.3},{"h":5.75,"v":15.28},{"h":6.75,"v":15.3},{"h":7.75,"v":15.32},{"h":8.75,"v":15.32},{"h":10.25,"v":15.31},{"h":11.75,"v":15.31},{"h":12.75,"v":15.28},{"h":14.25,"v":15.29},{"h":15.25,"v":15.28},{"h":15.75,"v":15.27},{"h":16.25,"v":15.27},{"h":16.75,"v":15.3},{"h":17.25,"v":15.28},{"h":18.25,"v":15.27},{"h":19.25,"v":15.25},{"h":20.25,"v":15.24},{"h":21.25,"v":15.24},{"h":21.75,"v":15.21},{"h":22.75,"v":15.21},{"h":23.25,"v":15.2}],
  "p3b": [{"h":0,"v":5.01},{"h":6,"v":5.01},{"h":12,"v":5.01},{"h":18,"v":5.01},{"h":23.25,"v":5.01}],
  "p3c": [{"h":0,"v":17.04},{"h":0.75,"v":17.01},{"h":1.75,"v":16.97},{"h":2.75,"v":16.91},{"h":3.75,"v":16.88},{"h":4.25,"v":16.86},{"h":5.25,"v":16.86},{"h":6.25,"v":16.88},{"h":7.75,"v":16.95},{"h":9.25,"v":16.92},{"h":10.25,"v":16.92},{"h":11.75,"v":16.89},{"h":13.25,"v":16.86},{"h":14.75,"v":16.86},{"h":16.25,"v":16.84},{"h":17.25,"v":16.82},{"h":18.75,"v":16.77},{"h":19.75,"v":16.75},{"h":21.25,"v":16.74},{"h":22.25,"v":16.73},{"h":23.25,"v":16.69}],
  "p3d": [{"h":0,"v":17.049},{"h":0.25,"v":17.046},{"h":0.75,"v":17.026},{"h":1.25,"v":17.002},{"h":1.75,"v":16.989},{"h":2.25,"v":16.952},{"h":2.75,"v":16.92},{"h":3.25,"v":16.917},{"h":3.75,"v":16.881},{"h":4.25,"v":16.859},{"h":4.75,"v":16.866},{"h":5.25,"v":16.861},{"h":5.75,"v":16.874},{"h":6.25,"v":16.893},{"h":6.75,"v":16.909},{"h":7.25,"v":16.934},{"h":7.75,"v":16.948},{"h":8.25,"v":16.942},{"h":8.75,"v":16.936},{"h":9.25,"v":16.925},{"h":9.75,"v":16.933},{"h":10.25,"v":16.933},{"h":10.75,"v":16.914},{"h":11.25,"v":16.907},{"h":11.75,"v":16.904},{"h":12.25,"v":16.893},{"h":12.75,"v":16.882},{"h":13.25,"v":16.858},{"h":13.75,"v":16.87},{"h":14.25,"v":16.86},{"h":14.75,"v":16.872},{"h":15.25,"v":16.873},{"h":15.75,"v":16.865},{"h":16.25,"v":16.855},{"h":16.75,"v":16.844},{"h":17.25,"v":16.839},{"h":17.75,"v":16.83},{"h":18.25,"v":16.818},{"h":18.75,"v":16.803},{"h":19.25,"v":16.782},{"h":19.75,"v":16.764},{"h":20.25,"v":16.774},{"h":20.75,"v":16.76},{"h":21.25,"v":16.751},{"h":21.75,"v":16.757},{"h":22.25,"v":16.743},{"h":22.75,"v":16.728},{"h":23.25,"v":16.684}],
  "p4a": [{"h":0,"v":19},{"h":0.25,"v":28},{"h":0.75,"v":55},{"h":1.25,"v":42},{"h":1.75,"v":96},{"h":2.25,"v":140},{"h":2.75,"v":64},{"h":3.25,"v":135},{"h":3.75,"v":161},{"h":4.25,"v":144},{"h":4.75,"v":99},{"h":5.25,"v":62},{"h":5.75,"v":35},{"h":6.25,"v":8},{"h":6.75,"v":-13},{"h":7.25,"v":-27},{"h":7.75,"v":-30},{"h":8.25,"v":-30},{"h":8.75,"v":-37},{"h":9.25,"v":-37},{"h":9.75,"v":-40},{"h":10.25,"v":-37},{"h":10.75,"v":-28},{"h":11.25,"v":-77},{"h":11.75,"v":-57},{"h":12.25,"v":-24},{"h":12.75,"v":-598},{"h":13.25,"v":-50},{"h":13.75,"v":-52},{"h":14.25,"v":-55},{"h":14.75,"v":-50},{"h":15.25,"v":-56},{"h":15.75,"v":-49},{"h":16.25,"v":-45},{"h":16.75,"v":-44},{"h":17.25,"v":-56},{"h":17.75,"v":-42},{"h":18.25,"v":-41},{"h":18.75,"v":-49},{"h":19.25,"v":-45},{"h":19.75,"v":-33},{"h":20.25,"v":-31},{"h":20.75,"v":-11},{"h":21.25,"v":-88},{"h":21.75,"v":-139},{"h":22.25,"v":-52},{"h":22.75,"v":-18}],
  "p4b": [{"h":0,"v":21},{"h":0.25,"v":26},{"h":0.75,"v":16},{"h":1.25,"v":93},{"h":1.75,"v":104},{"h":2.25,"v":43},{"h":2.75,"v":12},{"h":3.25,"v":45},{"h":3.75,"v":1},{"h":4.25,"v":11},{"h":4.75,"v":14},{"h":5.25,"v":-1},{"h":5.75,"v":9},{"h":6.25,"v":11},{"h":6.75,"v":4},{"h":7.25,"v":2},{"h":7.75,"v":2},{"h":8.25,"v":-3},{"h":8.75,"v":9.5},{"h":9.25,"v":47},{"h":9.75,"v":11},{"h":10.25,"v":7.5},{"h":10.75,"v":-199},{"h":11.25,"v":224},{"h":11.75,"v":31},{"h":12.25,"v":-65},{"h":12.75,"v":-3},{"h":13.25,"v":73},{"h":13.75,"v":22},{"h":14.25,"v":16},{"h":14.75,"v":-33},{"h":15.25,"v":14},{"h":15.75,"v":18},{"h":16.25,"v":-1},{"h":16.75,"v":20},{"h":17.25,"v":9.5},{"h":17.75,"v":11},{"h":18.25,"v":14},{"h":18.75,"v":-16},{"h":19.25,"v":-23},{"h":19.75,"v":-18},{"h":20.25,"v":-27},{"h":20.75,"v":-11},{"h":21.25,"v":19},{"h":21.75,"v":-7},{"h":22.25,"v":40},{"h":22.75,"v":13}],
  "p4c": [{"h":0,"v":40},{"h":0.25,"v":50},{"h":0.75,"v":71},{"h":1.25,"v":130},{"h":1.75,"v":203},{"h":2.25,"v":183},{"h":2.75,"v":73.5},{"h":3.25,"v":180},{"h":3.75,"v":163},{"h":4.25,"v":154},{"h":4.75,"v":112},{"h":5.25,"v":63},{"h":5.75,"v":33},{"h":6.25,"v":5},{"h":6.75,"v":-16},{"h":7.25,"v":-22},{"h":7.75,"v":-26},{"h":8.25,"v":-28},{"h":8.75,"v":-28},{"h":9.25,"v":4},{"h":9.75,"v":-29},{"h":10.25,"v":-30},{"h":10.75,"v":-224},{"h":11.25,"v":147},{"h":11.75,"v":-30},{"h":12.25,"v":-90},{"h":12.75,"v":-598},{"h":13.25,"v":22},{"h":13.75,"v":-28},{"h":14.25,"v":-40},{"h":14.75,"v":-83},{"h":15.25,"v":-44},{"h":15.75,"v":-33},{"h":16.25,"v":-49},{"h":16.75,"v":-24},{"h":17.25,"v":-54},{"h":17.75,"v":-30},{"h":18.25,"v":-25},{"h":18.75,"v":-69},{"h":19.25,"v":-75},{"h":19.75,"v":-45},{"h":20.25,"v":-66},{"h":20.75,"v":-25},{"h":21.25,"v":-69},{"h":21.75,"v":-159},{"h":22.25,"v":-11},{"h":22.75,"v":-5}],
  "p4d": [{"h":0,"v":-1.5},{"h":0.75,"v":-2},{"h":1.75,"v":-3},{"h":2.75,"v":-4},{"h":3.75,"v":-5},{"h":4.75,"v":-6},{"h":5.75,"v":-5.5},{"h":6.25,"v":-4.5},{"h":6.75,"v":-1.5},{"h":7.75,"v":0},{"h":10.25,"v":1},{"h":15.25,"v":1.5},{"h":20.25,"v":0.5},{"h":22.25,"v":0},{"h":23.25,"v":-0.5}],
  "p4e": [{"h":0.25,"v":94},{"h":0.75,"v":136},{"h":1.25,"v":136},{"h":1.75,"v":189},{"h":2.25,"v":255},{"h":2.75,"v":174},{"h":3.25,"v":204},{"h":3.75,"v":261},{"h":4.25,"v":208},{"h":4.75,"v":142},{"h":5.25,"v":84},{"h":5.75,"v":37},{"h":6.25,"v":3},{"h":6.75,"v":-22},{"h":7.25,"v":-33},{"h":7.75,"v":-35},{"h":8.25,"v":-35},{"h":8.75,"v":-40},{"h":9.25,"v":-40},{"h":9.75,"v":-37},{"h":10.25,"v":-30},{"h":10.75,"v":-27},{"h":11.25,"v":-29},{"h":11.75,"v":-27},{"h":12.25,"v":-20},{"h":12.75,"v":-20},{"h":13.25,"v":-37},{"h":13.75,"v":-61},{"h":14.25,"v":-71},{"h":14.75,"v":-73},{"h":15.25,"v":-73},{"h":15.75,"v":-73},{"h":16.25,"v":-69},{"h":16.75,"v":-64},{"h":17.25,"v":-56},{"h":17.75,"v":-33},{"h":18.25,"v":-20},{"h":18.75,"v":-27},{"h":19.25,"v":-33},{"h":19.75,"v":-35},{"h":20.25,"v":-42},{"h":20.75,"v":-40},{"h":21.25,"v":-23},{"h":21.75,"v":-15},{"h":22.25,"v":14},{"h":22.75,"v":77},{"h":23.25,"v":103},{"h":23.75,"v":96}],
  "p4f": [{"h":0,"v":110},{"h":0.25,"v":123},{"h":0.75,"v":203},{"h":1.25,"v":157},{"h":1.75,"v":276},{"h":2.25,"v":353},{"h":2.75,"v":127},{"h":3.25,"v":280},{"h":3.75,"v":331},{"h":4.25,"v":266},{"h":4.75,"v":187},{"h":5.25,"v":130},{"h":5.75,"v":71},{"h":6.25,"v":25},{"h":6.75,"v":-15},{"h":7.25,"v":-30},{"h":7.75,"v":-30},{"h":8.25,"v":-30},{"h":8.75,"v":-35},{"h":9.25,"v":-32},{"h":9.75,"v":-29},{"h":10.25,"v":-23},{"h":10.75,"v":-25},{"h":11.25,"v":-27},{"h":11.75,"v":-23},{"h":12.25,"v":-18},{"h":12.75,"v":-18},{"h":13.25,"v":-36},{"h":13.75,"v":-49},{"h":14.25,"v":-63},{"h":14.75,"v":-58},{"h":15.25,"v":-64},{"h":15.75,"v":-61},{"h":16.25,"v":-61},{"h":16.75,"v":-54},{"h":17.25,"v":-49},{"h":17.75,"v":-18},{"h":18.25,"v":-12},{"h":18.75,"v":-22},{"h":19.25,"v":-22},{"h":19.75,"v":-29},{"h":20.25,"v":-35},{"h":20.75,"v":-28},{"h":21.25,"v":-18},{"h":21.75,"v":-8},{"h":22.25,"v":18},{"h":22.75,"v":135},{"h":23.25,"v":154}],
  "p4g": [{"h":0,"v":109},{"h":0.25,"v":122},{"h":0.75,"v":202},{"h":1.25,"v":156},{"h":1.75,"v":275},{"h":2.25,"v":352},{"h":2.75,"v":125},{"h":3.25,"v":278},{"h":3.75,"v":329},{"h":4.25,"v":264},{"h":4.75,"v":184},{"h":5.25,"v":127},{"h":5.75,"v":68},{"h":6.25,"v":22},{"h":6.75,"v":-16},{"h":7.25,"v":-30},{"h":7.75,"v":-30},{"h":8.25,"v":-30},{"h":8.75,"v":-35},{"h":9.25,"v":-31},{"h":9.75,"v":-28},{"h":10.25,"v":-22},{"h":10.75,"v":-24},{"h":11.25,"v":-26},{"h":11.75,"v":-22},{"h":12.25,"v":-17},{"h":12.75,"v":-17},{"h":13.25,"v":-35},{"h":13.75,"v":-48},{"h":14.25,"v":-62},{"h":14.75,"v":-57},{"h":15.25,"v":-63},{"h":15.75,"v":-60},{"h":16.25,"v":-60},{"h":16.75,"v":-53},{"h":17.25,"v":-48},{"h":17.75,"v":-17},{"h":18.25,"v":-11},{"h":18.75,"v":-21},{"h":19.25,"v":-21},{"h":19.75,"v":-28},{"h":20.25,"v":-34},{"h":20.75,"v":-27},{"h":21.25,"v":-17},{"h":21.75,"v":-8},{"h":22.25,"v":18},{"h":22.75,"v":135},{"h":23.25,"v":154}],
  "p4h": [{"h":0,"v":108},{"h":0.25,"v":121},{"h":0.75,"v":201},{"h":1.25,"v":155},{"h":1.75,"v":273},{"h":2.25,"v":350},{"h":2.75,"v":123},{"h":3.25,"v":276},{"h":3.75,"v":326},{"h":4.25,"v":261},{"h":4.75,"v":181},{"h":5.25,"v":124},{"h":5.75,"v":66},{"h":6.25,"v":20},{"h":6.75,"v":-16},{"h":7.25,"v":-30},{"h":7.75,"v":-30},{"h":8.25,"v":-30},{"h":8.75,"v":-35},{"h":9.25,"v":-31},{"h":9.75,"v":-28},{"h":10.25,"v":-22},{"h":10.75,"v":-24},{"h":11.25,"v":-26},{"h":11.75,"v":-22},{"h":12.25,"v":-17},{"h":12.75,"v":-17},{"h":13.25,"v":-35},{"h":13.75,"v":-48},{"h":14.25,"v":-62},{"h":14.75,"v":-57},{"h":15.25,"v":-63},{"h":15.75,"v":-60},{"h":16.25,"v":-60},{"h":16.75,"v":-53},{"h":17.25,"v":-48},{"h":17.75,"v":-17},{"h":18.25,"v":-11},{"h":18.75,"v":-21},{"h":19.25,"v":-21},{"h":19.75,"v":-28},{"h":20.25,"v":-34},{"h":20.75,"v":-27},{"h":21.25,"v":-17},{"h":21.75,"v":-8},{"h":22.25,"v":18},{"h":22.75,"v":135},{"h":23.25,"v":154}],
  "p4red": [{"h":1.75,"v":203},{"h":1.75,"v":104},{"h":2.75,"v":73.5},{"h":2.75,"v":12},{"h":4.25,"v":154},{"h":4.25,"v":11},{"h":10.25,"v":7.5},{"h":12.75,"v":-598},{"h":12.75,"v":-3},{"h":14.75,"v":-33},{"h":14.75,"v":-83},{"h":16.25,"v":-1},{"h":16.25,"v":-49},{"h":21.75,"v":-7},{"h":21.75,"v":-159}]
},
"vconcat": [
{
  "width": 2210, "height": 756,
  "layer": [
    {
      "encoding": {
        "x": {"field": "h", "type": "quantitative", "scale": {"domain": [0, 24], "nice": false, "zero": false}, "axis": {"title": "UTC hours on 20250505", "values": [0, 5, 10, 15, 20], "format": "d"}},
        "y": {"field": "v", "type": "quantitative", "scale": {"domain": [-41, 780], "nice": false, "zero": false}, "axis": {"orient": "left", "title": "BB Shortwave Flux, W/m²", "values": [0, 100, 200, 300, 400, 500, 600, 700]}}
      },
      "layer": [
        {"data": {"name": "p1raw"}, "mark": {"type": "line", "strokeWidth": 2.8, "clip": true}, "encoding": {"color": {"datum": "SKYRAD SW Down", "type": "nominal", "scale": {"domain": ["SKYRAD SW Down", "SKYRAD SW Down (30 min)", "SEBS SW Down", "GNDRAD SW Up", "SEBS SW Up"], "range": ["#ADD8E6", "#0000FF", "#EE82EE", "#FFA500", "#A52A2A"]}, "legend": {"orient": "none", "legendX": 1608.6, "legendY": 101.8, "title": null, "labelExpr": "replace(datum.label, ' (30 min)', '')", "encode": {"symbols": {"update": {"x": {"value": 79}, "strokeWidth": {"signal": "[2.8,6,4.5,6,3.2][datum.index]"}}}, "labels": {"update": {"x": {"value": 176.4}}}}}}}},
        {"data": {"name": "p1coral"}, "mark": {"type": "line", "strokeWidth": 2.8, "color": "#FF7F50", "clip": true}},
        {"data": {"name": "p1b"}, "mark": {"type": "line", "strokeWidth": 6, "clip": true}, "encoding": {"color": {"datum": "SKYRAD SW Down (30 min)", "type": "nominal", "scale": {"domain": ["SKYRAD SW Down", "SKYRAD SW Down (30 min)", "SEBS SW Down", "GNDRAD SW Up", "SEBS SW Up"], "range": ["#ADD8E6", "#0000FF", "#EE82EE", "#FFA500", "#A52A2A"]}}}},
        {"data": {"name": "p1c"}, "mark": {"type": "line", "strokeWidth": 4.5, "clip": true}, "encoding": {"color": {"datum": "SEBS SW Down", "type": "nominal", "scale": {"domain": ["SKYRAD SW Down", "SKYRAD SW Down (30 min)", "SEBS SW Down", "GNDRAD SW Up", "SEBS SW Up"], "range": ["#ADD8E6", "#0000FF", "#EE82EE", "#FFA500", "#A52A2A"]}}}},
        {"data": {"name": "p1d"}, "mark": {"type": "line", "strokeWidth": 6, "clip": true}, "encoding": {"color": {"datum": "GNDRAD SW Up", "type": "nominal", "scale": {"domain": ["SKYRAD SW Down", "SKYRAD SW Down (30 min)", "SEBS SW Down", "GNDRAD SW Up", "SEBS SW Up"], "range": ["#ADD8E6", "#0000FF", "#EE82EE", "#FFA500", "#A52A2A"]}}}},
        {"data": {"name": "p1e"}, "mark": {"type": "line", "strokeWidth": 3.2, "clip": true}, "encoding": {"color": {"datum": "SEBS SW Up", "type": "nominal", "scale": {"domain": ["SKYRAD SW Down", "SKYRAD SW Down (30 min)", "SEBS SW Down", "GNDRAD SW Up", "SEBS SW Up"], "range": ["#ADD8E6", "#0000FF", "#EE82EE", "#FFA500", "#A52A2A"]}}}},
        {"data": {"name": "p1red"}, "mark": {"type": "circle", "color": "#FF0000", "size": 60, "opacity": 1, "clip": true}}
      ]
    },
    {"data": {"name": "day"}, "mark": {"type": "rect", "color": "#FFFF00", "opacity": 0.15}, "encoding": {"x": {"field": "x0", "type": "quantitative", "scale": {"domain": [0, 24], "nice": false, "zero": false}}, "x2": {"field": "x1"}}},
    {"data": {"values": [{"r": 0}]}, "mark": {"type": "rule", "opacity": 0}, "encoding": {"y": {"field": "r", "type": "quantitative", "scale": {"domain": [0, 1]}, "axis": {"orient": "right", "title": null, "labels": false, "ticks": false, "domainColor": "#0072BD"}}}}
  ],
  "resolve": {"scale": {"y": "independent"}}
},
{
  "width": 2210, "height": 756,
  "layer": [
    {
      "encoding": {
        "x": {"field": "h", "type": "quantitative", "scale": {"domain": [0, 24], "nice": false, "zero": false}, "axis": {"title": "UTC hours on 20250505", "values": [0, 5, 10, 15, 20], "format": "d"}},
        "y": {"field": "v", "type": "quantitative", "scale": {"domain": [305, 449], "nice": false, "zero": false}, "axis": {"orient": "left", "title": "BB Longwave Flux, W/m²", "values": [320, 340, 360, 380, 400, 420, 440]}}
      },
      "layer": [
        {"data": {"name": "p2raw1"}, "mark": {"type": "line", "strokeWidth": 2.5, "color": "#ADD8E6", "clip": true}},
        {"data": {"name": "p2raw2"}, "mark": {"type": "line", "strokeWidth": 2.5, "color": "#DDA0DD", "clip": true}},
        {"data": {"name": "p2coral"}, "mark": {"type": "line", "strokeWidth": 2.5, "color": "#FF7F50", "clip": true}},
        {"data": {"name": "p2c"}, "mark": {"type": "line", "strokeWidth": 2.8, "clip": true}, "encoding": {"color": {"datum": "SEBS LW Down", "type": "nominal", "scale": {"domain": ["SKYRAD LW Down (P1)", "SKYRAD LW Down (P2)", "SEBS LW Down", "GNDRAD LW Up", "SEBS LW Up"], "range": ["#0000FF", "#EE82EE", "#FA8072", "#FFA500", "#A52A2A"]}, "legend": {"orient": "none", "legendX": 98.3, "legendY": 102.6, "title": null, "encode": {"symbols": {"update": {"x": {"value": 79}, "strokeWidth": {"signal": "[6,6,2.8,6.5,3.2][datum.index]"}}}, "labels": {"update": {"x": {"value": 176.4}}}}}}}},
        {"data": {"name": "p2a"}, "mark": {"type": "line", "strokeWidth": 6, "clip": true}, "encoding": {"color": {"datum": "SKYRAD LW Down (P1)", "type": "nominal", "scale": {"domain": ["SKYRAD LW Down (P1)", "SKYRAD LW Down (P2)", "SEBS LW Down", "GNDRAD LW Up", "SEBS LW Up"], "range": ["#0000FF", "#EE82EE", "#FA8072", "#FFA500", "#A52A2A"]}}}},
        {"data": {"name": "p2b"}, "mark": {"type": "line", "strokeWidth": 6, "clip": true}, "encoding": {"color": {"datum": "SKYRAD LW Down (P2)", "type": "nominal", "scale": {"domain": ["SKYRAD LW Down (P1)", "SKYRAD LW Down (P2)", "SEBS LW Down", "GNDRAD LW Up", "SEBS LW Up"], "range": ["#0000FF", "#EE82EE", "#FA8072", "#FFA500", "#A52A2A"]}}}},
        {"data": {"name": "p2d"}, "mark": {"type": "line", "strokeWidth": 6.5, "clip": true}, "encoding": {"color": {"datum": "GNDRAD LW Up", "type": "nominal", "scale": {"domain": ["SKYRAD LW Down (P1)", "SKYRAD LW Down (P2)", "SEBS LW Down", "GNDRAD LW Up", "SEBS LW Up"], "range": ["#0000FF", "#EE82EE", "#FA8072", "#FFA500", "#A52A2A"]}}}},
        {"data": {"name": "p2e"}, "mark": {"type": "line", "strokeWidth": 3.2, "clip": true}, "encoding": {"color": {"datum": "SEBS LW Up", "type": "nominal", "scale": {"domain": ["SKYRAD LW Down (P1)", "SKYRAD LW Down (P2)", "SEBS LW Down", "GNDRAD LW Up", "SEBS LW Up"], "range": ["#0000FF", "#EE82EE", "#FA8072", "#FFA500", "#A52A2A"]}}}}
      ]
    },
    {"data": {"name": "day"}, "mark": {"type": "rect", "color": "#FFFF00", "opacity": 0.15}, "encoding": {"x": {"field": "x0", "type": "quantitative", "scale": {"domain": [0, 24], "nice": false, "zero": false}}, "x2": {"field": "x1"}}},
    {"data": {"values": [{"r": 0}]}, "mark": {"type": "rule", "opacity": 0}, "encoding": {"y": {"field": "r", "type": "quantitative", "scale": {"domain": [0, 1]}, "axis": {"orient": "right", "title": null, "labels": false, "ticks": false, "domainColor": "#0072BD"}}}}
  ],
  "resolve": {"scale": {"y": "independent"}}
},
{
  "width": 2210, "height": 756,
  "layer": [
    {
      "encoding": {
        "x": {"field": "h", "type": "quantitative", "scale": {"domain": [0, 24], "nice": false, "zero": false}, "axis": {"title": "UTC hours on 20250505", "values": [0, 5, 10, 15, 20], "format": "d"}},
        "y": {"field": "v", "type": "quantitative", "scale": {"domain": [4.416, 17.656], "nice": false, "zero": false}, "axis": {"orient": "left", "title": "Soil Moisture, %", "titlePadding": 16, "values": [6, 8, 10, 12, 14, 16]}}
      },
      "layer": [
        {"data": {"name": "p3a"}, "mark": {"type": "line", "strokeWidth": 3, "clip": true}, "encoding": {"color": {"datum": "SEBS Soil Moisture 1", "type": "nominal", "scale": {"domain": ["SEBS Soil Moisture 1", "SEBS soil moisture 2", "SEBS soil moisture 3", "SEBS average soil moisture"], "range": ["#808080", "#808080", "#008000", "#FFA500"]}, "legend": {"orient": "none", "legendX": 1532.2, "legendY": 310.8, "title": null, "encode": {"symbols": {"update": {"x": {"value": 79}, "strokeWidth": {"signal": "[3,3,3.5,6][datum.index]"}, "strokeDash": {"signal": "datum.index == 1 ? [45,40] : datum.index == 2 ? [36,16,8,16] : [1,0]"}}}, "labels": {"update": {"x": {"value": 176.4}}}}}}}},
        {"data": {"name": "p3b"}, "mark": {"type": "line", "strokeWidth": 3, "strokeDash": [45, 40], "clip": true}, "encoding": {"color": {"datum": "SEBS soil moisture 2", "type": "nominal", "scale": {"domain": ["SEBS Soil Moisture 1", "SEBS soil moisture 2", "SEBS soil moisture 3", "SEBS average soil moisture"], "range": ["#808080", "#808080", "#008000", "#FFA500"]}}}},
        {"data": {"name": "p3c"}, "mark": {"type": "line", "strokeWidth": 3.5, "strokeDash": [36, 16, 8, 16], "clip": true}, "encoding": {"color": {"datum": "SEBS soil moisture 3", "type": "nominal", "scale": {"domain": ["SEBS Soil Moisture 1", "SEBS soil moisture 2", "SEBS soil moisture 3", "SEBS average soil moisture"], "range": ["#808080", "#808080", "#008000", "#FFA500"]}}}}
      ]
    },
    {"data": {"name": "p3d"}, "mark": {"type": "line", "strokeWidth": 6, "clip": true}, "encoding": {
        "x": {"field": "h", "type": "quantitative", "scale": {"domain": [0, 24], "nice": false, "zero": false}},
        "y": {"field": "v", "type": "quantitative", "scale": {"domain": [16.6667, 17.0641], "nice": false, "zero": false}, "axis": {"orient": "right", "title": "Average Soil Moisture, %", "values": [16.7, 16.75, 16.8, 16.85, 16.9, 16.95, 17, 17.05], "format": "~g", "titleAngle": 270, "titleBaseline": "top", "domainColor": "#FF8C00", "tickColor": "#FF8C00", "labelColor": "#FF8C00", "titleColor": "#FF8C00"}},
        "color": {"datum": "SEBS average soil moisture", "type": "nominal", "scale": {"domain": ["SEBS Soil Moisture 1", "SEBS soil moisture 2", "SEBS soil moisture 3", "SEBS average soil moisture"], "range": ["#808080", "#808080", "#008000", "#FFA500"]}}}},
    {"data": {"name": "day"}, "mark": {"type": "rect", "color": "#FFFF00", "opacity": 0.15}, "encoding": {"x": {"field": "x0", "type": "quantitative", "scale": {"domain": [0, 24], "nice": false, "zero": false}}, "x2": {"field": "x1"}}}
  ],
  "resolve": {"scale": {"y": "independent"}}
},
{
  "width": 2210, "height": 756,
  "layer": [
    {
      "encoding": {
        "x": {"field": "h", "type": "quantitative", "scale": {"domain": [0, 24], "nice": false, "zero": false}, "axis": {"title": "UTC hours on 20250505", "values": [0, 5, 10, 15, 20], "format": "d"}},
        "y": {"field": "v", "type": "quantitative", "scale": {"domain": [-645, 399], "nice": false, "zero": false}, "axis": {"orient": "left", "title": "Flux, W/m⁻²", "values": [-600, -400, -200, 0, 200], "labelExpr": "toString(datum.value)"}}
      },
      "layer": [
        {"data": {"name": "p4a"}, "mark": {"type": "line", "strokeWidth": 4, "clip": true}, "encoding": {"color": {"datum": "ECOR sensible heat flux", "type": "nominal", "scale": {"domain": ["ECOR sensible heat flux", "ECOR latent heat flux", "ECOR latent + sensible heat flux", "SEBS soil heat flux", "SKY/GNDRAD net radiation", "SEBS net radiation", "SEBS \"energy balance\"", "SEBS net rad + soil heat"], "range": ["#FFC0CB", "#FFA500", "#A52A2A", "#0000FF", "#808080", "#000000", "#008000", "#DDA0DD"]}, "legend": {"orient": "none", "legendX": 204.5, "legendY": 394.2, "title": null, "encode": {"symbols": {"update": {"x": {"value": 79}, "strokeWidth": {"signal": "[4,3.5,3.5,3.5,8,3,3,3.5][datum.index]"}, "strokeDash": {"signal": "datum.index == 7 ? [54,32] : [1,0]"}}}, "labels": {"update": {"x": {"value": 176.4}}}}}}}},
        {"data": {"name": "p4b"}, "mark": {"type": "line", "strokeWidth": 3.5, "clip": true}, "encoding": {"color": {"datum": "ECOR latent heat flux", "type": "nominal", "scale": {"domain": ["ECOR sensible heat flux", "ECOR latent heat flux", "ECOR latent + sensible heat flux", "SEBS soil heat flux", "SKY/GNDRAD net radiation", "SEBS net radiation", "SEBS \"energy balance\"", "SEBS net rad + soil heat"], "range": ["#FFC0CB", "#FFA500", "#A52A2A", "#0000FF", "#808080", "#000000", "#008000", "#DDA0DD"]}}}},
        {"data": {"name": "p4c"}, "mark": {"type": "line", "strokeWidth": 3.5, "clip": true}, "encoding": {"color": {"datum": "ECOR latent + sensible heat flux", "type": "nominal", "scale": {"domain": ["ECOR sensible heat flux", "ECOR latent heat flux", "ECOR latent + sensible heat flux", "SEBS soil heat flux", "SKY/GNDRAD net radiation", "SEBS net radiation", "SEBS \"energy balance\"", "SEBS net rad + soil heat"], "range": ["#FFC0CB", "#FFA500", "#A52A2A", "#0000FF", "#808080", "#000000", "#008000", "#DDA0DD"]}}}},
        {"data": {"name": "p4d"}, "mark": {"type": "line", "strokeWidth": 3.5, "clip": true}, "encoding": {"color": {"datum": "SEBS soil heat flux", "type": "nominal", "scale": {"domain": ["ECOR sensible heat flux", "ECOR latent heat flux", "ECOR latent + sensible heat flux", "SEBS soil heat flux", "SKY/GNDRAD net radiation", "SEBS net radiation", "SEBS \"energy balance\"", "SEBS net rad + soil heat"], "range": ["#FFC0CB", "#FFA500", "#A52A2A", "#0000FF", "#808080", "#000000", "#008000", "#DDA0DD"]}}}},
        {"data": {"name": "p4e"}, "mark": {"type": "line", "strokeWidth": 8, "clip": true}, "encoding": {"color": {"datum": "SKY/GNDRAD net radiation", "type": "nominal", "scale": {"domain": ["ECOR sensible heat flux", "ECOR latent heat flux", "ECOR latent + sensible heat flux", "SEBS soil heat flux", "SKY/GNDRAD net radiation", "SEBS net radiation", "SEBS \"energy balance\"", "SEBS net rad + soil heat"], "range": ["#FFC0CB", "#FFA500", "#A52A2A", "#0000FF", "#808080", "#000000", "#008000", "#DDA0DD"]}}}},
        {"data": {"name": "p4f"}, "mark": {"type": "line", "strokeWidth": 3.5, "clip": true}, "encoding": {"color": {"datum": "SEBS net radiation", "type": "nominal", "scale": {"domain": ["ECOR sensible heat flux", "ECOR latent heat flux", "ECOR latent + sensible heat flux", "SEBS soil heat flux", "SKY/GNDRAD net radiation", "SEBS net radiation", "SEBS \"energy balance\"", "SEBS net rad + soil heat"], "range": ["#FFC0CB", "#FFA500", "#A52A2A", "#0000FF", "#808080", "#000000", "#008000", "#DDA0DD"]}}}},
        {"data": {"name": "p4g"}, "mark": {"type": "line", "strokeWidth": 3, "clip": true}, "encoding": {"color": {"datum": "SEBS \"energy balance\"", "type": "nominal", "scale": {"domain": ["ECOR sensible heat flux", "ECOR latent heat flux", "ECOR latent + sensible heat flux", "SEBS soil heat flux", "SKY/GNDRAD net radiation", "SEBS net radiation", "SEBS \"energy balance\"", "SEBS net rad + soil heat"], "range": ["#FFC0CB", "#FFA500", "#A52A2A", "#0000FF", "#808080", "#000000", "#008000", "#DDA0DD"]}}}},
        {"data": {"name": "p4h"}, "mark": {"type": "line", "strokeWidth": 3, "strokeDash": [40, 26], "clip": true}, "encoding": {"color": {"datum": "SEBS net rad + soil heat", "type": "nominal", "scale": {"domain": ["ECOR sensible heat flux", "ECOR latent heat flux", "ECOR latent + sensible heat flux", "SEBS soil heat flux", "SKY/GNDRAD net radiation", "SEBS net radiation", "SEBS \"energy balance\"", "SEBS net rad + soil heat"], "range": ["#FFC0CB", "#FFA500", "#A52A2A", "#0000FF", "#808080", "#000000", "#008000", "#DDA0DD"]}}}},
        {"data": {"name": "p4red"}, "mark": {"type": "circle", "color": "#FF0000", "size": 40, "opacity": 1, "clip": true}}
      ]
    },
    {"data": {"name": "day"}, "mark": {"type": "rect", "color": "#FFFF00", "opacity": 0.15}, "encoding": {"x": {"field": "x0", "type": "quantitative", "scale": {"domain": [0, 24], "nice": false, "zero": false}}, "x2": {"field": "x1"}}},
    {"data": {"values": [{"r": 0}]}, "mark": {"type": "rule", "opacity": 0}, "encoding": {"y": {"field": "r", "type": "quantitative", "scale": {"domain": [0, 1]}, "axis": {"orient": "right", "title": null, "labels": false, "ticks": false, "domainColor": "#0072BD"}}}}
  ],
  "resolve": {"scale": {"y": "independent"}}
}
],
"spacing": 190,
"bounds": "flush",
"resolve": {"scale": {"color": "independent"}, "legend": {"color": "independent"}}
}
